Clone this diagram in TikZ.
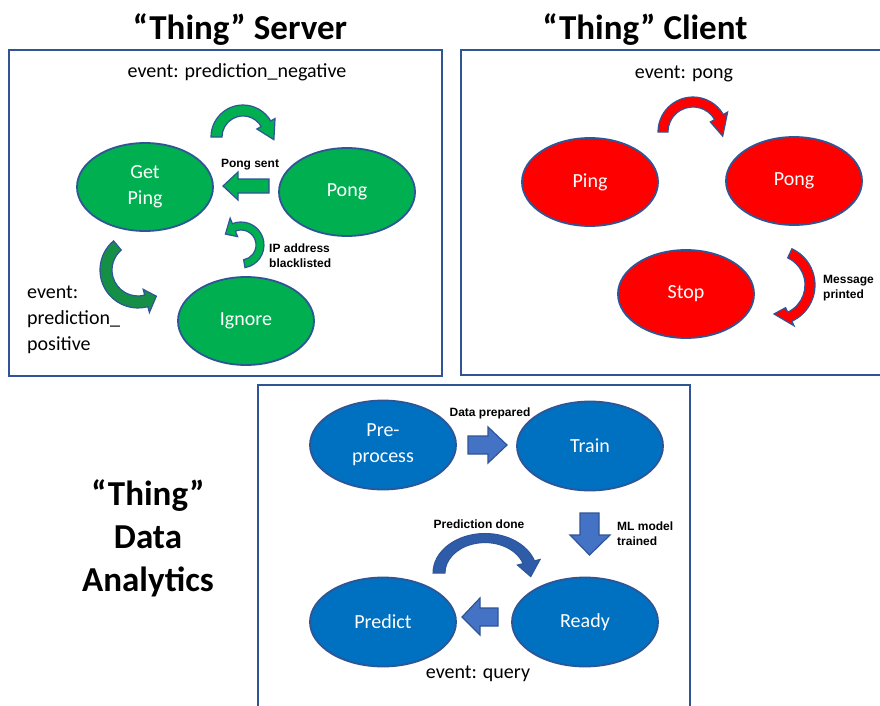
\documentclass[tikz,border=0pt]{standalone}
\usepackage{fontspec}
\setmainfont{Carlito}
\newfontfamily\arialf{Liberation Sans}
\usetikzlibrary{shapes.geometric}
\definecolor{bordblue}{HTML}{2F5597}
\definecolor{sgreen}{HTML}{00B050}
\definecolor{dgreen}{HTML}{168F46}
\definecolor{sred}{HTML}{FF0000}
\definecolor{sblue}{HTML}{0070C0}
\definecolor{ablue}{HTML}{4472C4}
\definecolor{arcblue}{HTML}{2E5CA8}
% curved block arrow: center, start angle, end angle, inner r, outer r, head overhang, tip angle, tip r, style
\newcommand{\cbarrow}[9]{%
  \begin{scope}[shift={#1}]
  \path[#9] ({#2}:{(#5)*1pt}) arc[start angle={#2}, end angle={#3}, radius={(#5)*1pt}]
    -- ({#3}:{(#5+#6)*1pt}) -- ({#7}:{(#8)*1pt}) -- ({#3}:{(#4-#6)*1pt})
    -- ({#3}:{(#4)*1pt}) arc[start angle={#3}, end angle={#2}, radius={(#4)*1pt}] -- cycle;
  \end{scope}}
\tikzset{
  frame/.style={draw=bordblue, line width=1.7pt},
  title/.style={font=\bfseries\fontsize{35}{43}\selectfont, align=center, inner sep=0pt},
  evt/.style={font=\fontsize{20}{26}\selectfont, inner sep=0pt},
  lbl/.style={font=\arialf\bfseries\fontsize{12}{15}\selectfont, inner sep=0pt},
  state/.style={ellipse, draw=bordblue, line width=1.8pt, text=white, align=center,
    font=\fontsize{20}{26}\selectfont, inner sep=0pt, minimum width=136pt, minimum height=88pt},
  gstate/.style={state, fill=sgreen},
  rstate/.style={state, fill=sred},
  bstate/.style={state, fill=sblue, minimum width=146pt, minimum height=89pt},
  garrow/.style={fill=sgreen, draw=bordblue, line width=1.2pt, line join=miter},
  dgarrow/.style={fill=dgreen, draw=bordblue, line width=1.2pt},
  rarrow/.style={fill=sred, draw=bordblue, line width=1.2pt},
  barrow/.style={fill=ablue, draw=bordblue, line width=1.2pt},
  barc/.style={fill=arcblue, draw=bordblue, line width=1.0pt},
}
\begin{document}
\begin{tikzpicture}[x=1pt, y=1pt]
\useasboundingbox (0,0) rectangle (880,-706);
\fill[white] (0,0) rectangle (880,-706);

% ---------------- Server ----------------
\draw[frame] (9,-50) rectangle (442,-376);
\node[title] (t1) at (240,-30) {“Thing” Server};
\node[evt] (e1) at (237,-72) {event: prediction\_negative};
\node[gstate] (getping) at (145,-187) {Get\\Ping};
\node[gstate] (spong) at (347,-192) {Pong};
\node[gstate] (ignore) at (246,-321) {Ignore};
\node[lbl] (ps) at (250,-165) {Pong sent};
\node[lbl, anchor=west, align=left] (ip) at (269,-256) {IP address\\blacklisted};
\node[evt, anchor=west, align=left] (e2) at (27,-320) {event:\\prediction\_\\positive};
\path[garrow] (223,-186) -- (238,-172) -- (238,-179) -- (269,-179) -- (269,-193) -- (238,-193) -- (238,-200) -- cycle;
\cbarrow{(243,-137)}{180}{30}{21}{32}{5}{-5}{31}{garrow}
\cbarrow{(138,-270)}{130}{285}{26}{38}{6}{305}{32}{dgarrow}
\cbarrow{(241,-245)}{-80}{112}{15}{23}{6}{145}{19}{garrow}

% ---------------- Client ----------------
\draw[frame] (461,-50) rectangle (881,-375);
\node[title] (t2) at (645,-30) {“Thing” Client};
\node[evt] (e3) at (684,-74) {event: pong};
\node[rstate] (cping) at (590,-182) {Ping};
\node[rstate] (cpong) at (794,-181) {Pong};
\node[rstate] (stop) at (686,-294) {Stop};
\node[lbl, anchor=west, align=left] (mp) at (823,-288) {Message\\printed};
\cbarrow{(693,-132)}{180}{30}{25}{35}{5}{-8}{30}{rarrow}
\cbarrow{(775,-285)}{65}{-65}{30}{40}{5}{-92}{29}{rarrow}

% ---------------- Data Analytics ----------------
\draw[frame] (258,-385) rectangle (690,-715);
\node[title] (t3) at (148,-538) {“Thing”\\Data\\Analytics};
\node[bstate] (pre) at (383,-445) {Pre-\\process};
\node[bstate] (train) at (590,-446) {Train};
\node[bstate] (predict) at (383,-622) {Predict};
\node[bstate] (ready) at (585,-622) {Ready};
\node[lbl] (dp) at (490,-413) {Data prepared};
\node[lbl, anchor=west, align=left] (ml) at (617,-534) {ML model\\trained};
\node[lbl] (pd) at (479,-524) {Prediction done};
\node[evt] (e4) at (478,-674) {event: query};
\path[barrow] (468,-436) -- (488,-436) -- (488,-427) -- (507,-445) -- (488,-463) -- (488,-454) -- (468,-454) -- cycle;
\path[barrow] (580,-513) -- (599,-513) -- (599,-535) -- (610,-535) -- (589.5,-555) -- (570,-535) -- (580,-535) -- cycle;
\path[barrow] (462,-617) -- (480,-598) -- (480,-608) -- (498,-608) -- (498,-626) -- (480,-626) -- (480,-635) -- cycle;
\cbarrow{(485,-573)}{180}{18}{40}{52}{6}{-6}{46}{barc, yscale=0.76}
\end{tikzpicture}
\end{document}
